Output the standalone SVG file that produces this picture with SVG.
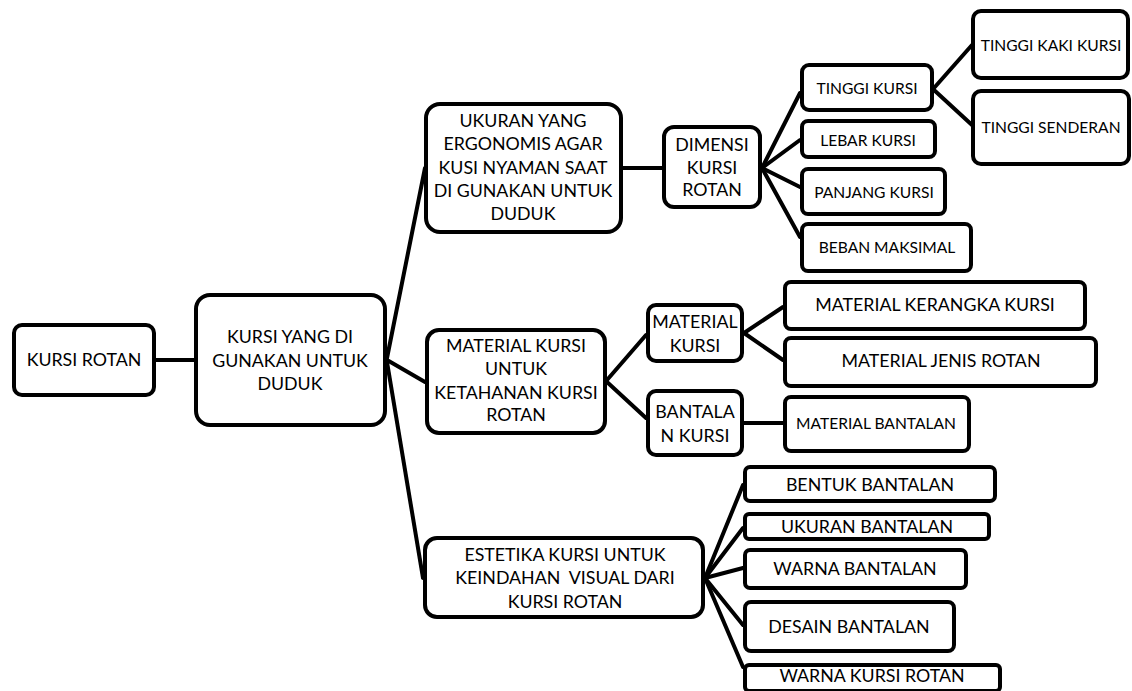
<svg xmlns="http://www.w3.org/2000/svg" width="1132" height="691" viewBox="0 0 1132 691">
<style>
.n rect{fill:#fff;stroke:#000;stroke-width:4}
.c line{stroke:#000;stroke-width:4;stroke-linecap:round}
text{font-family:Lato,"Liberation Sans",sans-serif;fill:#000;text-anchor:middle}
.L{font-size:17.8px}
.S{font-size:15.6px}
</style>
<rect width="1132" height="691" fill="#fff"/>
<g id="connectors" class="c">
<line x1="156" y1="360" x2="194" y2="360"/>
<line x1="387" y1="358" x2="425" y2="168"/>
<line x1="387" y1="360" x2="425" y2="382"/>
<line x1="387" y1="362" x2="423" y2="578"/>
<line x1="623" y1="168" x2="662" y2="168"/>
<line x1="762" y1="168" x2="800" y2="93"/>
<line x1="762" y1="168" x2="800" y2="140"/>
<line x1="762" y1="168" x2="800" y2="187"/>
<line x1="762" y1="168" x2="800" y2="237"/>
<line x1="934" y1="88" x2="972" y2="45"/>
<line x1="934" y1="90" x2="972" y2="125"/>
<line x1="607" y1="380" x2="646" y2="335"/>
<line x1="607" y1="382" x2="646" y2="418"/>
<line x1="744" y1="333" x2="783" y2="307"/>
<line x1="744" y1="333" x2="783" y2="360"/>
<line x1="744" y1="423" x2="783" y2="423"/>
<line x1="705" y1="578" x2="743" y2="485"/>
<line x1="705" y1="578" x2="743" y2="528"/>
<line x1="705" y1="578" x2="743" y2="568"/>
<line x1="705" y1="578" x2="743" y2="625"/>
<line x1="705" y1="578" x2="743" y2="667"/>
</g>
<g id="n-kursi-rotan" class="n"><rect x="14" y="325" width="140" height="70" rx="8"/><text class="L" x="84" y="366">KURSI ROTAN</text></g>
<g id="n-kursi-duduk" class="n"><rect x="196" y="295" width="189" height="130" rx="14"/><text class="L"><tspan x="290" y="343">KURSI YANG DI</tspan><tspan x="290" y="367">GUNAKAN UNTUK</tspan><tspan x="290" y="390">DUDUK</tspan></text></g>
<g id="n-ukuran" class="n"><rect x="426" y="104" width="195" height="128" rx="14"/><text class="L"><tspan x="523" y="127">UKURAN YANG</tspan><tspan x="523" y="150">ERGONOMIS AGAR</tspan><tspan x="523" y="174">KUSI NYAMAN SAAT</tspan><tspan x="523" y="197">DI GUNAKAN UNTUK</tspan><tspan x="523" y="220">DUDUK</tspan></text></g>
<g id="n-dimensi" class="n"><rect x="664" y="127" width="96" height="80" rx="10"/><text class="L"><tspan x="712" y="151">DIMENSI</tspan><tspan x="712" y="174">KURSI</tspan><tspan x="712" y="196">ROTAN</tspan></text></g>
<g id="n-tinggi-kursi" class="n"><rect x="802" y="65" width="130" height="45" rx="7"/><text class="S" x="867" y="93.5">TINGGI KURSI</text></g>
<g id="n-tinggi-kaki" class="n"><rect x="973" y="11" width="155" height="67" rx="8"/><text class="S" x="1051" y="50.5">TINGGI KAKI KURSI</text></g>
<g id="n-tinggi-senderan" class="n"><rect x="973" y="91" width="156" height="73" rx="8"/><text class="S" x="1051" y="132.5">TINGGI SENDERAN</text></g>
<g id="n-lebar" class="n"><rect x="802" y="121" width="133" height="36" rx="6"/><text class="S" x="868" y="145.5">LEBAR KURSI</text></g>
<g id="n-panjang" class="n"><rect x="802" y="169" width="143" height="45" rx="6"/><text class="S" x="874" y="197.5">PANJANG KURSI</text></g>
<g id="n-beban" class="n"><rect x="802" y="224" width="169" height="47" rx="6"/><text class="S" x="887" y="252.5">BEBAN MAKSIMAL</text></g>
<g id="n-material" class="n"><rect x="427" y="330" width="178" height="103" rx="12"/><text class="L"><tspan x="516" y="352">MATERIAL KURSI</tspan><tspan x="516" y="375">UNTUK</tspan><tspan x="516" y="399">KETAHANAN KURSI</tspan><tspan x="516" y="421">ROTAN</tspan></text></g>
<g id="n-material-kursi" class="n"><rect x="648" y="305" width="94" height="56" rx="8"/><text class="L"><tspan x="695" y="328">MATERIAL</tspan><tspan x="695" y="352">KURSI</tspan></text></g>
<g id="n-bantalan-kursi" class="n"><rect x="648" y="391" width="94" height="64" rx="8"/><text class="L"><tspan x="695" y="418">BANTALA</tspan><tspan x="695" y="442">N KURSI</tspan></text></g>
<g id="n-kerangka" class="n"><rect x="785" y="282" width="300" height="47" rx="6"/><text class="L" x="935" y="311">MATERIAL KERANGKA KURSI</text></g>
<g id="n-jenis-rotan" class="n"><rect x="785" y="338" width="311" height="48" rx="6"/><text class="L" x="941" y="367">MATERIAL JENIS ROTAN</text></g>
<g id="n-material-bantalan" class="n"><rect x="785" y="397" width="184" height="54" rx="6"/><text class="S" x="876" y="428.5">MATERIAL BANTALAN</text></g>
<g id="n-estetika" class="n"><rect x="425" y="538" width="278" height="79" rx="12"/><text class="L"><tspan x="565" y="561">ESTETIKA KURSI UNTUK</tspan><tspan x="565" y="584" xml:space="preserve">KEINDAHAN  VISUAL DARI</tspan><tspan x="565" y="608">KURSI ROTAN</tspan></text></g>
<g id="n-bentuk" class="n"><rect x="745" y="467" width="250" height="34" rx="5"/><text class="L" x="870" y="491">BENTUK BANTALAN</text></g>
<g id="n-ukuran-bantalan" class="n"><rect x="745" y="514" width="244" height="25" rx="4"/><text class="L" x="867" y="533">UKURAN BANTALAN</text></g>
<g id="n-warna-bantalan" class="n"><rect x="745" y="550" width="221" height="38" rx="5"/><text class="L" x="855" y="575">WARNA BANTALAN</text></g>
<g id="n-desain" class="n"><rect x="745" y="602" width="209" height="49" rx="6"/><text class="L" x="849" y="633">DESAIN BANTALAN</text></g>
<g id="n-warna-kursi" class="n"><rect x="745" y="665" width="255" height="26" rx="4"/><text class="L" x="872" y="682">WARNA KURSI ROTAN</text></g>
</svg>
